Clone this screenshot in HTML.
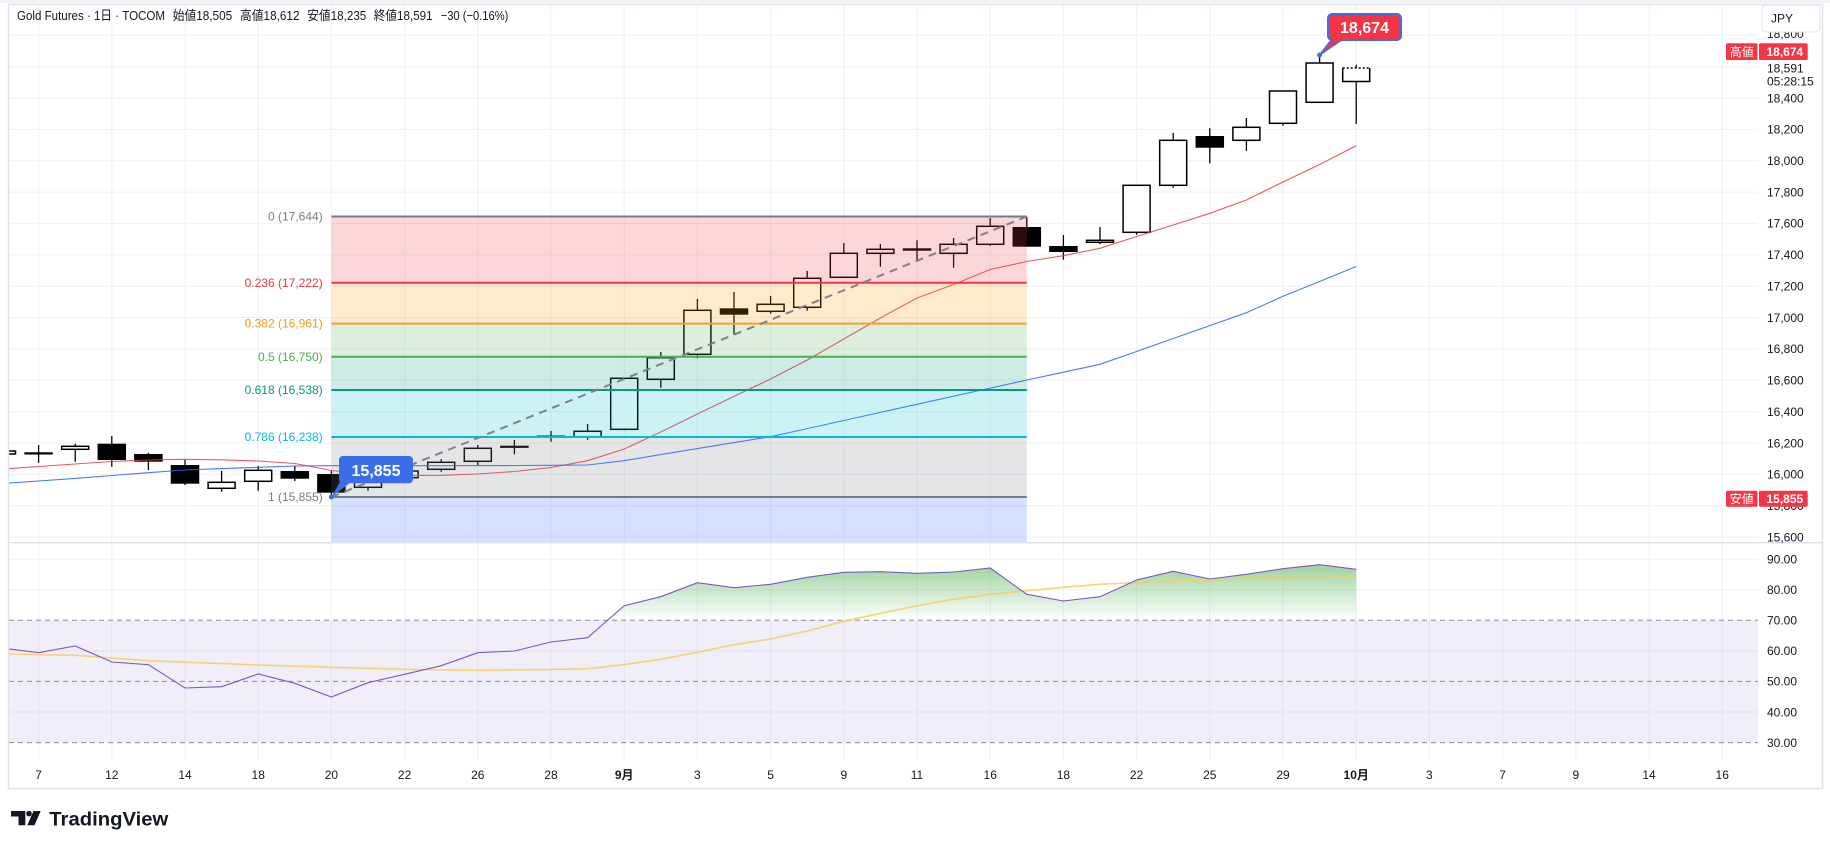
<!DOCTYPE html>
<html><head><meta charset="utf-8"><style>
html,body{margin:0;padding:0;background:#fff;}
svg{display:block;}
text{font-family:"Liberation Sans","Noto Sans CJK JP",sans-serif;}
</style></head><body>
<svg width="1830" height="848" viewBox="0 0 1830 848" xmlns="http://www.w3.org/2000/svg">
<defs>
<clipPath id="cp"><rect x="9" y="5" width="1749" height="537.5"/></clipPath>
<clipPath id="cr"><rect x="9" y="543.5" width="1749" height="216.5"/></clipPath>
<clipPath id="cg"><rect x="9" y="543.5" width="1749" height="76.8"/></clipPath>
<linearGradient id="gg" gradientUnits="userSpaceOnUse" x1="0" y1="528.8" x2="0" y2="620.3">
<stop offset="0" stop-color="#4caf50" stop-opacity="0.9"/>
<stop offset="1" stop-color="#4caf50" stop-opacity="0"/>
</linearGradient>
</defs>
<rect x="0" y="0" width="1830" height="848" fill="#fff"/>
<rect x="0" y="0" width="1830" height="3" fill="#f0f2f5"/>

<!-- grid -->
<g stroke="#eef0f4" stroke-width="1">
<path d="M9 35.3H1758M9 66.7H1758M9 98H1758M9 129.4H1758M9 160.7H1758M9 192.1H1758M9 223.4H1758M9 254.8H1758M9 286.2H1758M9 317.5H1758M9 348.9H1758M9 380.2H1758M9 411.6H1758M9 443H1758M9 474.3H1758M9 505.7H1758M9 537H1758"/>
<path d="M9 559.3H1758M9 589.9H1758M9 650.9H1758M9 712H1758"/>
<path d="M38.6 5V760M111.8 5V760M185 5V760M258.2 5V760M331.4 5V760M404.6 5V760M477.8 5V760M551 5V760M624.2 5V760M697.4 5V760M770.6 5V760M843.8 5V760M917 5V760M990.2 5V760M1063.4 5V760M1136.6 5V760M1209.8 5V760M1283 5V760M1356.2 5V760M1429.4 5V760M1502.6 5V760M1575.8 5V760M1649 5V760M1722.2 5V760"/>
</g>

<!-- price pane -->
<g clip-path="url(#cp)">
<path fill="none" stroke="#000" stroke-width="1.3" d="M38.6 445V462.7M75.2 443.7V461.7M111.8 436V466.7M148.4 452.7V470M185 460V485M221.6 471V491.7M258.2 466V490.7M294.8 465.7V481M331.4 471V497M368 478V490.7M404.6 469V479M441.2 459.3V471.7M477.8 445V465M514.4 440V454.3M551 431V441.7M587.6 424V439.7M624.2 378V430.3M660.8 352V387.7M697.4 299V358.3M734 292V334.7M770.6 296V313.7M807.2 271V310.7M843.8 243V277.3M880.4 244V266.7M917 240.3V261.7M953.6 238V267.7M990.2 218V245.7M1026.8 216.7V246.7M1063.4 235V259.7M1100 227V244.3M1136.6 185.3V234.7M1173.2 133V187.7M1209.8 128.3V163.3M1246.4 118V150.7M1283 91V125.7M1319.6 55V102.3M1356.2 64.8V123.9"/>
<g fill="#fff" stroke="#000" stroke-width="1.5">
<rect x="-11.5" y="451" width="27" height="3"/>
<rect x="61.7" y="446.3" width="27" height="3"/>
<rect x="208.1" y="482.3" width="27" height="6"/>
<rect x="244.7" y="470.3" width="27" height="11"/>
<rect x="354.5" y="481" width="27" height="6.3"/>
<rect x="391.1" y="471" width="27" height="6.7"/>
<rect x="427.7" y="462.3" width="27" height="7"/>
<rect x="464.3" y="448.3" width="27" height="13"/>
<rect x="574.1" y="431.3" width="27" height="5.4"/>
<rect x="610.7" y="378.3" width="27" height="51"/>
<rect x="647.3" y="357.7" width="27" height="21.6"/>
<rect x="683.9" y="310.3" width="27" height="44"/>
<rect x="757.1" y="304.3" width="27" height="7"/>
<rect x="793.7" y="278.3" width="27" height="29"/>
<rect x="830.3" y="253.3" width="27" height="24"/>
<rect x="866.9" y="249.3" width="27" height="4"/>
<rect x="940.1" y="244.3" width="27" height="9"/>
<rect x="976.7" y="226.3" width="27" height="18"/>
<rect x="1086.5" y="240.3" width="27" height="2"/>
<rect x="1123.1" y="185.3" width="27" height="47"/>
<rect x="1159.7" y="140.3" width="27" height="45"/>
<rect x="1232.9" y="127.3" width="27" height="13"/>
<rect x="1269.5" y="91" width="27" height="32.3"/>
<rect x="1306.1" y="63" width="27" height="39.3"/>
</g>
<rect x="1342.7" y="68" width="27" height="13.5" fill="#fff"/>
<path d="M1342.7 68V81.5H1369.7V68" fill="none" stroke="#000" stroke-width="1.5"/>
<path d="M1342.7 68H1369.7" fill="none" stroke="#000" stroke-width="1.5" stroke-dasharray="2 2"/>
<g fill="#000">
<rect x="24.35" y="452.3" width="28.5" height="2.2"/>
<rect x="97.55" y="443.7" width="28.5" height="16.3"/>
<rect x="134.15" y="454" width="28.5" height="7.7"/>
<rect x="170.75" y="465" width="28.5" height="18.7"/>
<rect x="280.55" y="471" width="28.5" height="7.7"/>
<rect x="317.15" y="474" width="28.5" height="18.7"/>
<rect x="500.15" y="445.7" width="28.5" height="2.2"/>
<rect x="536.75" y="435.5" width="28.5" height="1.8"/>
<rect x="719.75" y="308.3" width="28.5" height="6.4"/>
<rect x="902.75" y="248.3" width="28.5" height="2.4"/>
<rect x="1012.55" y="227" width="28.5" height="19.7"/>
<rect x="1049.15" y="246" width="28.5" height="6"/>
<rect x="1195.55" y="136" width="28.5" height="11.7"/>
</g>
<polyline fill="none" stroke="#f23645" stroke-width="1.1" stroke-opacity="0.85" points="2,469 38.6,466.5 75.2,464 111.8,461.5 148.4,460 185,459.3 221.6,459.8 258.2,461 294.8,463.5 331.4,470.5 368,474.5 404.6,475.5 441.2,475.3 477.8,474 514.4,471.5 551,467.5 587.6,460.7 624.2,449 660.8,432 697.4,414 734,396.4 770.6,379 807.2,360 843.8,339 880.4,318 917,298 953.6,284.5 990.2,269.5 1026.8,261.5 1063.4,255.7 1100,248.3 1136.6,236.5 1173.2,225 1209.8,213.3 1246.4,200 1283,182 1319.6,164.5 1356.2,145.7"/>
<polyline fill="none" stroke="#2962ff" stroke-width="1.1" stroke-opacity="0.85" points="2,483.6 38.6,481 75.2,478.4 111.8,475.5 148.4,472.7 185,470 221.6,468.6 258.2,467.3 294.8,466 331.4,465.7 368,465.7 404.6,465.7 441.2,465.7 477.8,465.6 514.4,465.5 551,465.3 587.6,465 624.2,460.7 660.8,454.6 697.4,448.6 734,442.6 770.6,436.7 807.2,428.6 843.8,420.5 880.4,412.4 917,404.3 953.6,396.2 990.2,388.1 1026.8,380 1063.4,372.2 1100,364.3 1136.6,351.5 1173.2,338.5 1209.8,325.6 1246.4,312.7 1283,296.3 1319.6,281.5 1356.2,266.5"/>
<rect x="331.4" y="216.5" width="695.4" height="66.2" fill="rgba(242,54,69,0.2)"/>
<rect x="331.4" y="282.7" width="695.4" height="40.9" fill="rgba(255,152,0,0.2)"/>
<rect x="331.4" y="323.6" width="695.4" height="33.1" fill="rgba(76,175,80,0.2)"/>
<rect x="331.4" y="356.7" width="695.4" height="33.3" fill="rgba(8,153,129,0.2)"/>
<rect x="331.4" y="390" width="695.4" height="47" fill="rgba(0,188,212,0.2)"/>
<rect x="331.4" y="437" width="695.4" height="60" fill="rgba(120,123,134,0.2)"/>
<rect x="331.4" y="497" width="695.4" height="46" fill="rgba(41,98,255,0.2)"/>
<g stroke-width="2">
<path d="M331.4 216.5H1026.8" stroke="#787b86"/>
<path d="M331.4 282.7H1026.8" stroke="#f23645"/>
<path d="M331.4 323.6H1026.8" stroke="#f0a030"/>
<path d="M331.4 356.7H1026.8" stroke="#4caf50"/>
<path d="M331.4 390H1026.8" stroke="#089981"/>
<path d="M331.4 437H1026.8" stroke="#00bcd4"/>
<path d="M331.4 497H1026.8" stroke="#787b86"/>
</g>
<path d="M331.4 497L1026.8 216.5" stroke="#7f8189" stroke-width="2" stroke-dasharray="8 6" fill="none"/>
</g>

<g font-size="12" text-anchor="end">
<text x="322.7" y="220.6" fill="#787b86">0 (17,644)</text>
<text x="322.7" y="286.8" fill="#f23645">0.236 (17,222)</text>
<text x="322.7" y="327.7" fill="#f09a20">0.382 (16,961)</text>
<text x="322.7" y="360.8" fill="#4caf50">0.5 (16,750)</text>
<text x="322.7" y="394.1" fill="#089981">0.618 (16,538)</text>
<text x="322.7" y="441.1" fill="#00bcd4">0.786 (16,238)</text>
<text x="322.7" y="501.1" fill="#787b86">1 (15,855)</text>
</g>

<path d="M340 482L331.4 497L351 482Z" fill="#3b6ee6"/>
<rect x="339" y="456" width="74" height="27.3" rx="4" fill="#3b6ee6"/>
<text x="376" y="476" font-size="16" font-weight="bold" fill="#fff" text-anchor="middle">15,855</text>
<circle cx="331.4" cy="497" r="2.5" fill="#3b6ee6"/>

<path d="M1332 39L1319.6 55L1343 39Z" fill="#f23645" stroke="#3f6ee6" stroke-width="1.5" stroke-linejoin="round"/>
<rect x="1328" y="14" width="73" height="26" rx="4" fill="#f23645" stroke="#3f6ee6" stroke-width="2"/>
<path d="M1333 40.5H1342" stroke="#f23645" stroke-width="2"/>
<text x="1364.5" y="33" font-size="16" font-weight="bold" fill="#fff" text-anchor="middle">18,674</text>
<circle cx="1319.6" cy="55" r="2.5" fill="#3f6ee6"/>

<g clip-path="url(#cr)">
<rect x="9" y="620.3" width="1749" height="122.3" fill="rgba(126,87,194,0.1)"/>
<g stroke="#8a8d96" stroke-width="1" stroke-dasharray="5 4">
<path d="M9 620.3H1758M9 681.4H1758M9 742.6H1758"/>
</g>
<polygon clip-path="url(#cg)" fill="url(#gg)" points="2,648 38.6,652.7 75.2,646 111.8,662 148.4,664.7 185,688 221.6,686.7 258.2,674 294.8,683.3 331.4,697 368,682.7 404.6,674.3 441.2,665.7 477.8,652.7 514.4,651 551,642 587.6,637.7 624.2,605.7 660.8,596.7 697.4,582.7 734,587.7 770.6,584.3 807.2,577.3 843.8,572.3 880.4,571.7 917,573.3 953.6,572 990.2,568 1026.8,594.3 1063.4,601 1100,596.7 1136.6,580 1173.2,571.3 1209.8,579 1246.4,574.3 1283,568.7 1319.6,564.7 1356.2,569.3 1356.2,620.3 2,620.3"/>
<polyline fill="none" stroke="#f5cf5a" stroke-opacity="0.85" stroke-width="1.6" points="2,654 75.2,655.3 148.4,660.7 258.2,665 331.4,667.3 404.6,669.3 477.8,670.3 551,669.5 587.6,668.7 624.2,664.7 660.8,659.3 697.4,652.3 734,644.7 770.6,639 807.2,631 843.8,621.3 880.4,613.3 917,605.7 953.6,599.3 990.2,594.3 1026.8,590.7 1063.4,587.3 1100,584.3 1136.6,582.7 1173.2,580.7 1209.8,580.3 1246.4,579 1283,578.3 1319.6,577.3 1356.2,577"/>
<polyline fill="none" stroke="#7e57c2" stroke-width="1.1" points="2,648 38.6,652.7 75.2,646 111.8,662 148.4,664.7 185,688 221.6,686.7 258.2,674 294.8,683.3 331.4,697 368,682.7 404.6,674.3 441.2,665.7 477.8,652.7 514.4,651 551,642 587.6,637.7 624.2,605.7 660.8,596.7 697.4,582.7 734,587.7 770.6,584.3 807.2,577.3 843.8,572.3 880.4,571.7 917,573.3 953.6,572 990.2,568 1026.8,594.3 1063.4,601 1100,596.7 1136.6,580 1173.2,571.3 1209.8,579 1246.4,574.3 1283,568.7 1319.6,564.7 1356.2,569.3"/>
</g>

<rect x="8.5" y="4.5" width="1814" height="784" fill="none" stroke="#e0e3eb" stroke-width="1.5"/>
<path d="M8.5 542.8H1822.5" stroke="#e0e3eb" stroke-width="1.5"/>

<g font-size="13" fill="#131722">
<text x="17" y="20" textLength="148" lengthAdjust="spacingAndGlyphs">Gold Futures · 1日 · TOCOM</text>
<text x="172.7" y="20" textLength="59.5" lengthAdjust="spacingAndGlyphs">始値18,505</text>
<text x="240" y="20" textLength="59.5" lengthAdjust="spacingAndGlyphs">高値18,612</text>
<text x="307.3" y="20" textLength="59" lengthAdjust="spacingAndGlyphs">安値18,235</text>
<text x="373.8" y="20" textLength="58.8" lengthAdjust="spacingAndGlyphs">終値18,591</text>
<text x="440.7" y="20" textLength="67.7" lengthAdjust="spacingAndGlyphs">−30 (−0.16%)</text>
</g>

<g font-size="12" fill="#131722">
<text x="1767" y="38.2">18,800</text>
<text x="1767" y="102.3">18,400</text>
<text x="1767" y="133.7">18,200</text>
<text x="1767" y="165">18,000</text>
<text x="1767" y="196.4">17,800</text>
<text x="1767" y="227.7">17,600</text>
<text x="1767" y="259.1">17,400</text>
<text x="1767" y="290.5">17,200</text>
<text x="1767" y="321.8">17,000</text>
<text x="1767" y="353.2">16,800</text>
<text x="1767" y="384.5">16,600</text>
<text x="1767" y="415.9">16,400</text>
<text x="1767" y="447.3">16,200</text>
<text x="1767" y="478.6">16,000</text>
<text x="1767" y="510">15,800</text>
<text x="1767" y="541.3">15,600</text>
<text x="1767" y="563.6">90.00</text>
<text x="1767" y="594.2">80.00</text>
<text x="1767" y="624.6">70.00</text>
<text x="1767" y="655.2">60.00</text>
<text x="1767" y="685.7">50.00</text>
<text x="1767" y="716.3">40.00</text>
<text x="1767" y="746.9">30.00</text>
</g>
<rect x="1762" y="5" width="58" height="27" rx="4" fill="#fff" stroke="#e0e3eb" stroke-width="1"/>
<text x="1771" y="22.5" font-size="12" fill="#131722">JPY</text>
<rect x="1726" y="43.3" width="31.5" height="16.7" rx="1.5" fill="#f23645"/>
<text x="1741.7" y="56" font-size="12" fill="#fff" text-anchor="middle">高値</text>
<rect x="1759" y="43.3" width="48.7" height="16.7" rx="1.5" fill="#f23645"/>
<text x="1766.5" y="56" font-size="12" font-weight="bold" fill="#fff">18,674</text>
<rect x="1759" y="61" width="56" height="27" fill="#fff"/>
<text x="1767" y="72.6" font-size="12" fill="#131722">18,591</text>
<text x="1767" y="85.5" font-size="12" fill="#131722">05:28:15</text>
<rect x="1726" y="490.7" width="31.5" height="16" rx="1.5" fill="#f23645"/>
<text x="1741.7" y="503" font-size="12" fill="#fff" text-anchor="middle">安値</text>
<rect x="1759" y="490.7" width="48.7" height="16" rx="1.5" fill="#f23645"/>
<text x="1766.5" y="503" font-size="12" font-weight="bold" fill="#fff">15,855</text>

<g font-size="12" fill="#131722" text-anchor="middle">
<text x="38.6" y="779">7</text>
<text x="111.8" y="779">12</text>
<text x="185" y="779">14</text>
<text x="258.2" y="779">18</text>
<text x="331.4" y="779">20</text>
<text x="404.6" y="779">22</text>
<text x="477.8" y="779">26</text>
<text x="551" y="779">28</text>
<text x="624.2" y="779" font-weight="bold">9月</text>
<text x="697.4" y="779">3</text>
<text x="770.6" y="779">5</text>
<text x="843.8" y="779">9</text>
<text x="917" y="779">11</text>
<text x="990.2" y="779">16</text>
<text x="1063.4" y="779">18</text>
<text x="1136.6" y="779">22</text>
<text x="1209.8" y="779">25</text>
<text x="1283" y="779">29</text>
<text x="1356.2" y="779" font-weight="bold">10月</text>
<text x="1429.4" y="779">3</text>
<text x="1502.6" y="779">7</text>
<text x="1575.8" y="779">9</text>
<text x="1649" y="779">14</text>
<text x="1722.2" y="779">16</text>
</g>

<g fill="#131722">
<path d="M11 811H25.3V825.3H18.5V816.5H11Z"/>
<circle cx="29" cy="813.6" r="2.8"/>
<path d="M33.5 811H40.7L34.5 825.3H27.3Z"/>
<text x="49.3" y="825.5" font-size="19" font-weight="bold" textLength="119" lengthAdjust="spacingAndGlyphs">TradingView</text>
</g>
</svg>
</body></html>
